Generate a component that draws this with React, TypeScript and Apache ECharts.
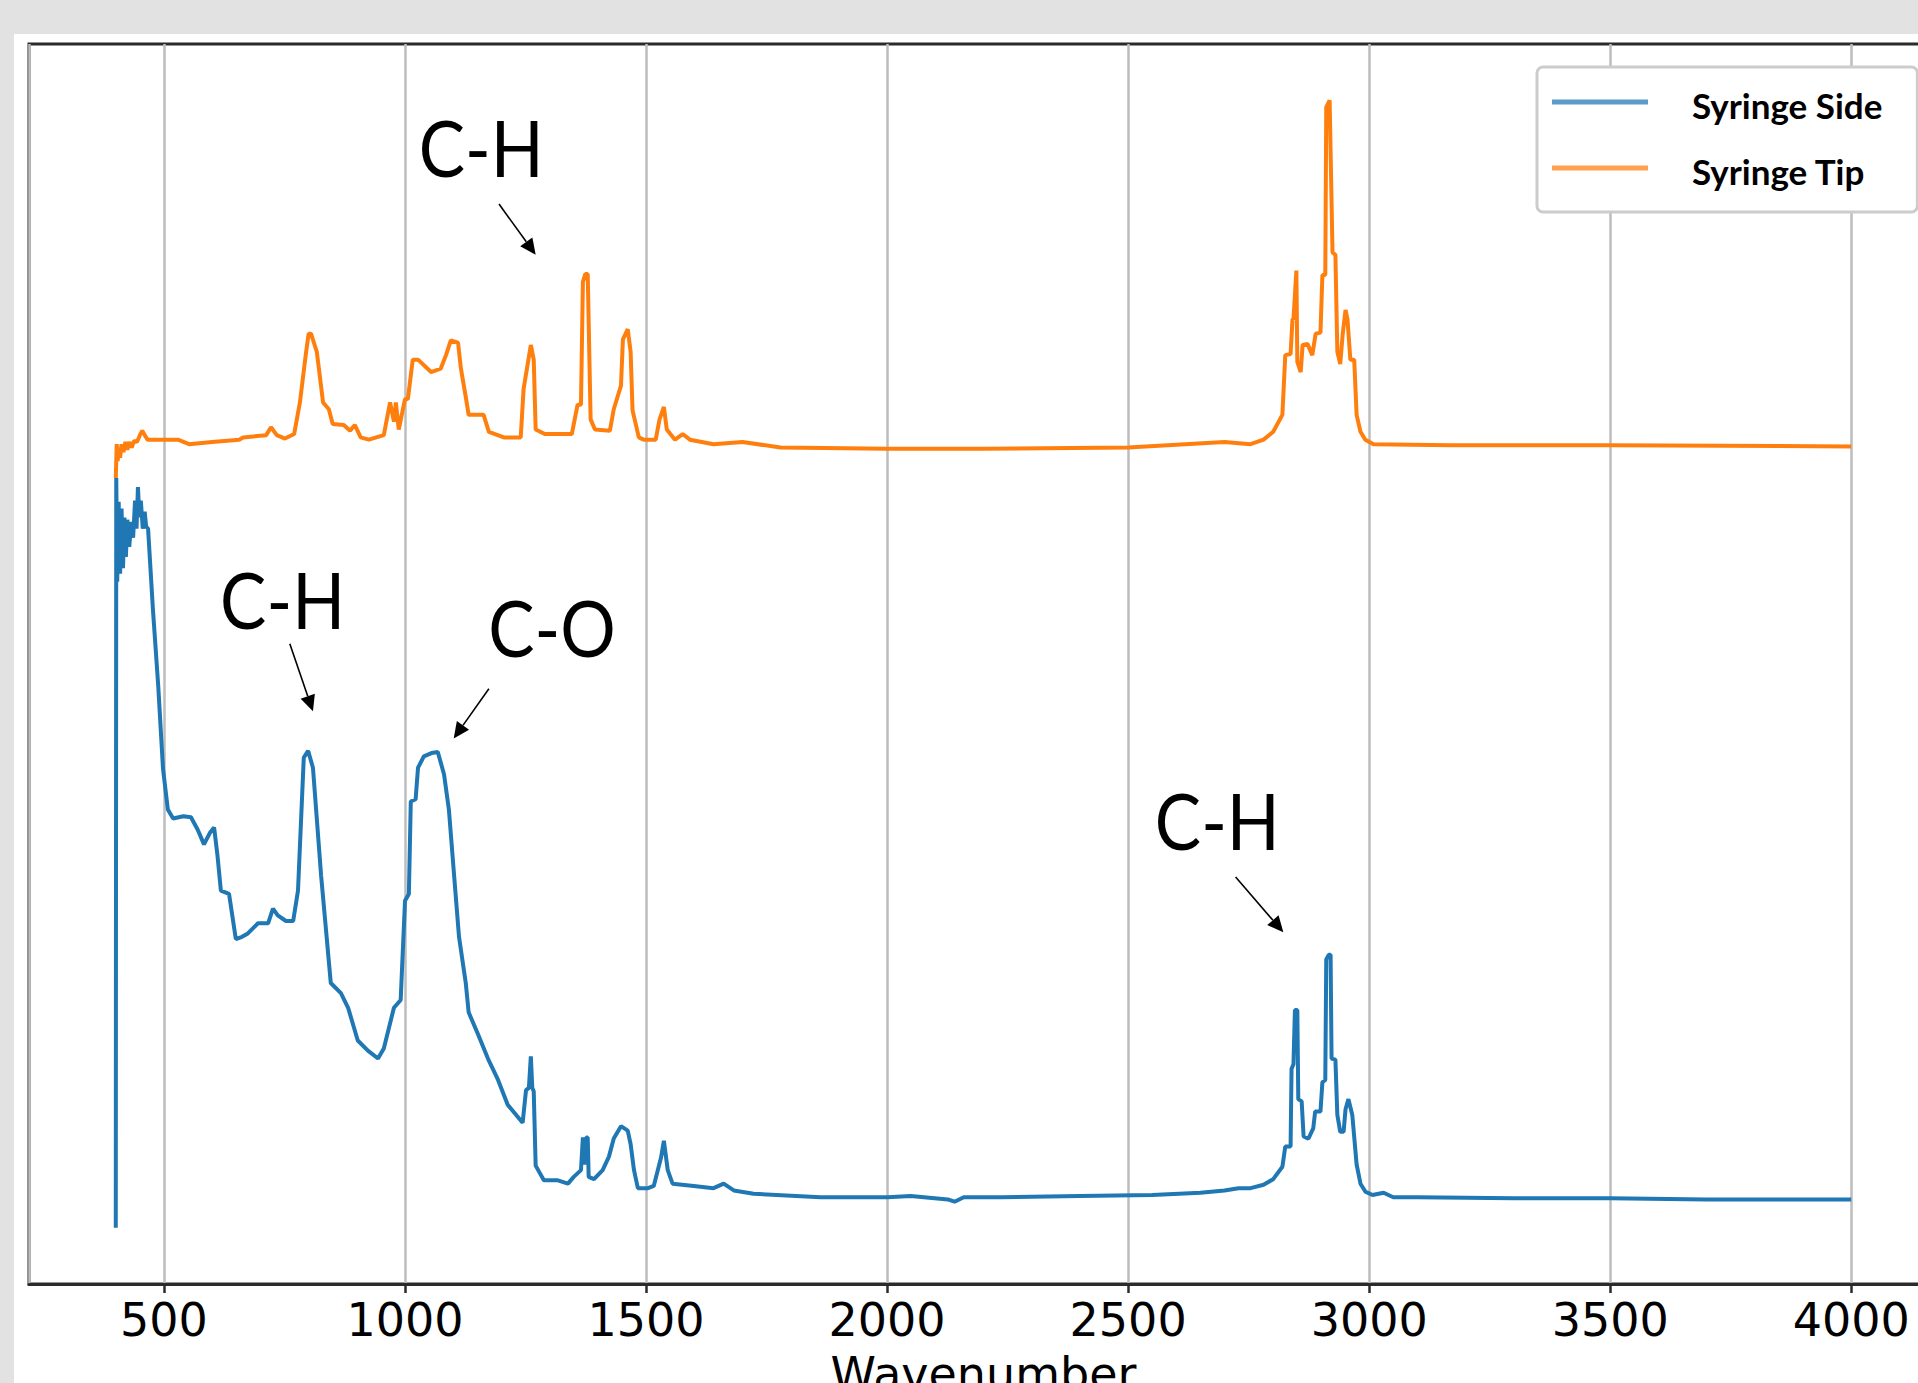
import React, { useEffect, useRef } from "react";
import * as echarts from "echarts";

// ---- axis ranges ----
const X_MIN = 220;
const X_MAX = 4180;
const X_STEP = 500;
const Y_MIN = -0.05;
const Y_MAX = 1.05;

const seriesNames = ["Syringe Side", "Syringe Tip"];
const seriesColors = ["#1f77b4", "#ff7f0e"];
const legendColors = ["#5b9bc9", "#ffa04f"];

// ---- data: [wavenumber, intensity (arb.)] ----
const syringeSide: [number, number][] = [
  [400, 0.0], [401, 0.665], [403, 0.573], [406, 0.644], [409, 0.58], [412, 0.638], [415, 0.585],
  [418, 0.63], [421, 0.595], [424, 0.628], [428, 0.604], [432, 0.626], [436, 0.612], [440, 0.645],
  [443, 0.62], [446, 0.657], [449, 0.63], [452, 0.645], [456, 0.62], [460, 0.635], [463, 0.622],
  [467, 0.62], [477, 0.549], [488, 0.481], [498, 0.407], [508, 0.371], [519, 0.363], [540, 0.365],
  [556, 0.364], [570, 0.353], [583, 0.34], [595, 0.35], [604, 0.355], [611, 0.33], [618, 0.299],
  [635, 0.296], [649, 0.256], [662, 0.258], [674, 0.261], [695, 0.27], [716, 0.27], [726, 0.283],
  [736, 0.277], [753, 0.272], [768, 0.272], [778, 0.299], [790, 0.417], [799, 0.423], [809, 0.408],
  [826, 0.312], [846, 0.217], [867, 0.208], [882, 0.195], [902, 0.166], [923, 0.157], [944, 0.15],
  [956, 0.159], [977, 0.195], [991, 0.202], [1000, 0.29], [1008, 0.296], [1012, 0.378], [1022, 0.38],
  [1027, 0.408], [1039, 0.418], [1055, 0.421], [1068, 0.422], [1081, 0.402], [1091, 0.371],
  [1101, 0.317], [1112, 0.258], [1126, 0.217], [1132, 0.191], [1151, 0.172], [1172, 0.15],
  [1193, 0.131], [1213, 0.109], [1244, 0.093], [1251, 0.122], [1257, 0.124], [1261, 0.152],
  [1264, 0.124], [1267, 0.121], [1271, 0.055], [1288, 0.042], [1317, 0.042], [1338, 0.039],
  [1350, 0.045], [1365, 0.051], [1369, 0.08], [1372, 0.056], [1376, 0.08], [1379, 0.08],
  [1381, 0.045], [1392, 0.043], [1410, 0.051], [1423, 0.063], [1433, 0.079], [1448, 0.09],
  [1462, 0.086], [1468, 0.074], [1475, 0.051], [1483, 0.035], [1504, 0.035], [1516, 0.037],
  [1531, 0.062], [1537, 0.077], [1545, 0.051], [1555, 0.039], [1599, 0.037], [1640, 0.035],
  [1661, 0.039], [1682, 0.033], [1723, 0.03], [1862, 0.027], [2001, 0.027], [2049, 0.028],
  [2126, 0.025], [2140, 0.023], [2159, 0.027], [2236, 0.027], [2400, 0.028], [2550, 0.029],
  [2650, 0.031], [2700, 0.033], [2729, 0.035], [2754, 0.035], [2781, 0.038], [2801, 0.043],
  [2820, 0.054], [2826, 0.072], [2837, 0.072], [2839, 0.141], [2843, 0.145], [2846, 0.193],
  [2851, 0.193], [2853, 0.114], [2860, 0.112], [2864, 0.081], [2874, 0.079], [2884, 0.088],
  [2888, 0.103], [2899, 0.103], [2903, 0.129], [2909, 0.131], [2911, 0.238], [2916, 0.242],
  [2920, 0.242], [2922, 0.15], [2930, 0.149], [2934, 0.1], [2940, 0.085], [2947, 0.085],
  [2951, 0.105], [2957, 0.114], [2965, 0.1], [2974, 0.056], [2982, 0.039], [2992, 0.032],
  [3007, 0.029], [3030, 0.031], [3050, 0.027], [3100, 0.027], [3300, 0.026], [3500, 0.026],
  [3700, 0.025], [4000, 0.025],
];

const syringeTip: [number, number][] = [
  [400, 0.665], [402, 0.695], [404, 0.68], [406, 0.692], [409, 0.683], [412, 0.695], [416, 0.688],
  [420, 0.697], [424, 0.69], [428, 0.697], [433, 0.692], [438, 0.698], [444, 0.697], [450, 0.703],
  [455, 0.707], [460, 0.703], [466, 0.699], [496, 0.699], [529, 0.699], [552, 0.695], [600, 0.697],
  [656, 0.699], [664, 0.701], [712, 0.703], [722, 0.71], [734, 0.703], [751, 0.7], [770, 0.704],
  [782, 0.732], [794, 0.774], [800, 0.793], [805, 0.793], [817, 0.777], [830, 0.732], [842, 0.726],
  [850, 0.713], [873, 0.712], [886, 0.707], [896, 0.712], [908, 0.701], [925, 0.699], [956, 0.703],
  [969, 0.732], [977, 0.715], [981, 0.732], [987, 0.708], [1000, 0.735], [1006, 0.735],
  [1016, 0.77], [1027, 0.77], [1054, 0.759], [1074, 0.762], [1085, 0.774], [1095, 0.787],
  [1110, 0.785], [1116, 0.762], [1126, 0.737], [1132, 0.721], [1163, 0.721], [1174, 0.706],
  [1205, 0.701], [1240, 0.701], [1246, 0.744], [1261, 0.783], [1267, 0.77], [1271, 0.708],
  [1290, 0.704], [1346, 0.704], [1358, 0.73], [1365, 0.73], [1369, 0.839], [1374, 0.846],
  [1379, 0.846], [1385, 0.717], [1394, 0.708], [1425, 0.707], [1433, 0.726], [1448, 0.747],
  [1452, 0.788], [1462, 0.797], [1468, 0.777], [1472, 0.725], [1485, 0.701], [1495, 0.699],
  [1520, 0.699], [1528, 0.717], [1537, 0.728], [1543, 0.708], [1560, 0.699], [1576, 0.704],
  [1591, 0.699], [1640, 0.695], [1700, 0.697], [1779, 0.692], [2000, 0.691], [2200, 0.691],
  [2500, 0.692], [2700, 0.697], [2754, 0.695], [2781, 0.699], [2801, 0.706], [2820, 0.721],
  [2826, 0.774], [2837, 0.775], [2841, 0.806], [2843, 0.806], [2849, 0.849], [2851, 0.768],
  [2858, 0.759], [2862, 0.783], [2872, 0.784], [2882, 0.774], [2889, 0.793], [2899, 0.794],
  [2903, 0.845], [2909, 0.845], [2911, 0.994], [2918, 1.0], [2924, 0.865], [2930, 0.863],
  [2934, 0.777], [2940, 0.766], [2945, 0.792], [2951, 0.814], [2955, 0.806], [2961, 0.77],
  [2969, 0.77], [2974, 0.721], [2982, 0.706], [2992, 0.699], [3009, 0.695], [3168, 0.694],
  [3500, 0.694], [4000, 0.693],
];

// ---- annotations (data coordinates): label centre, arrow start, arrow tip ----
const annotationTexts = ["C-H", "C-H", "C-O", "C-H"];
const annotationLabelPos: [number, number][] = [[1158, 0.958], [746, 0.557], [1305, 0.532], [2685, 0.361]];
const annotationArrowFrom: [number, number][] = [[1195, 0.908], [761, 0.518], [1174, 0.478], [2723, 0.311]];
const annotationArrowTo: [number, number][] = [[1271, 0.863], [809, 0.458], [1101, 0.434], [2822, 0.262]];

export default function App() {
  const ref = useRef<HTMLDivElement>(null);

  useEffect(() => {
    if (!ref.current) return;
    const chart = echarts.init(ref.current, null, { renderer: "svg" });
    const legendFont = {
      fontFamily: "Lato",
      fontWeight: "bold",
      fontSize: 35,
      lineHeight: 40,
      color: "#000000",
    };
    const option: any = {
      animation: false,
      backgroundColor: "#ffffff",
      grid: {
        show: true,
        left: 29,
        top: 44,
        width: 1909,
        height: 1240,
        outerBoundsMode: "none",
        containLabel: false,
        borderColor: "#2b2b2b",
        borderWidth: 3,
        backgroundColor: "transparent",
      },
      legend: {
        orient: "vertical",
        left: 1537,
        top: 67,
        padding: [12, 35, 21, 15],
        itemGap: 20,
        itemWidth: 96,
        itemHeight: 5,
        icon: "rect",
        selectedMode: false,
        borderColor: "#cccccc",
        borderWidth: 3,
        borderRadius: 6,
        backgroundColor: "#ffffff",
        formatter: "{a|{name}}",
        textStyle: {
          ...legendFont,
          padding: [6, 0, 0, 39],
          rich: { a: { ...legendFont } },
        },
        data: seriesNames.map((n, i) => ({ name: n, itemStyle: { color: legendColors[i] } })),
      },
      xAxis: {
        type: "value",
        min: X_MIN,
        max: X_MAX,
        minInterval: X_STEP,
        maxInterval: X_STEP,
        splitNumber: 8,
        name: "Wavenumber",
        nameLocation: "middle",
        nameGap: 67,
        nameTextStyle: { fontFamily: "DejaVu Sans", fontSize: 46, lineHeight: 46, color: "#000000" },
        axisLine: { show: true, onZero: false, lineStyle: { color: "#2b2b2b", width: 3 } },
        axisTick: { show: true, length: 9, lineStyle: { color: "#2b2b2b", width: 2.5 } },
        axisLabel: {
          showMinLabel: false,
          showMaxLabel: false,
          margin: 13,
          fontFamily: "DejaVu Sans",
          fontSize: 46,
          lineHeight: 46,
          color: "#000000",
          formatter: (v: number) => String(v),
        },
        splitLine: { show: true, lineStyle: { color: "#bdbdbd", width: 2.5 } },
      },
      yAxis: {
        type: "value",
        min: Y_MIN,
        max: Y_MAX,
        show: false,
        splitLine: { show: false },
      },
      series: [
        {
          name: seriesNames[0],
          type: "line",
          data: syringeSide,
          showSymbol: false,
          symbol: "none",
          silent: true,
          z: 2,
          lineStyle: { width: 4, color: seriesColors[0] },
          itemStyle: { color: seriesColors[0] },
        },
        {
          name: seriesNames[1],
          type: "line",
          data: syringeTip,
          showSymbol: false,
          symbol: "none",
          silent: true,
          z: 3,
          lineStyle: { width: 4, color: seriesColors[1] },
          itemStyle: { color: seriesColors[1] },
        },
      ],
    };
    chart.setOption(option);

    const graphics: any[] = [
      { type: "rect", silent: true, z: -10, shape: { x: 0, y: 0, width: 1918, height: 34 }, style: { fill: "#e2e2e2" } },
      { type: "rect", silent: true, z: -10, shape: { x: 0, y: 0, width: 14, height: 1383 }, style: { fill: "#e2e2e2" } },
    ];
    annotationTexts.forEach((t, i) => {
      const [tx, ty] = chart.convertToPixel({ gridIndex: 0 }, annotationLabelPos[i]) as number[];
      const [x1, y1] = chart.convertToPixel({ gridIndex: 0 }, annotationArrowFrom[i]) as number[];
      const [x2, y2] = chart.convertToPixel({ gridIndex: 0 }, annotationArrowTo[i]) as number[];
      const dx = x2 - x1;
      const dy = y2 - y1;
      const len = Math.sqrt(dx * dx + dy * dy);
      const ux = dx / len;
      const uy = dy / len;
      const headL = 16;
      const headW = 7.5;
      const bx = x2 - ux * headL;
      const by = y2 - uy * headL;
      graphics.push({
        type: "text",
        silent: true,
        z: 10,
        x: tx,
        y: ty,
        scaleX: 0.9,
        style: {
          text: t,
          fontFamily: "Lato",
          fontSize: 77,
          fill: "#000000",
          align: "center",
          verticalAlign: "middle",
        },
      });
      graphics.push({
        type: "line",
        silent: true,
        z: 10,
        shape: { x1, y1, x2: bx, y2: by },
        style: { stroke: "#000000", lineWidth: 1.6 },
      });
      graphics.push({
        type: "polygon",
        silent: true,
        z: 10,
        shape: {
          points: [
            [x2, y2],
            [bx - uy * headW, by + ux * headW],
            [bx + uy * headW, by - ux * headW],
          ],
        },
        style: { fill: "#000000" },
      });
    });
    chart.setOption({ graphic: graphics });

    return () => {
      chart.dispose();
    };
  }, []);

  return (
    <div
      ref={ref}
      style={{ position: "fixed", left: 0, top: 0, width: 1918, height: 1383 }}
    />
  );
}
